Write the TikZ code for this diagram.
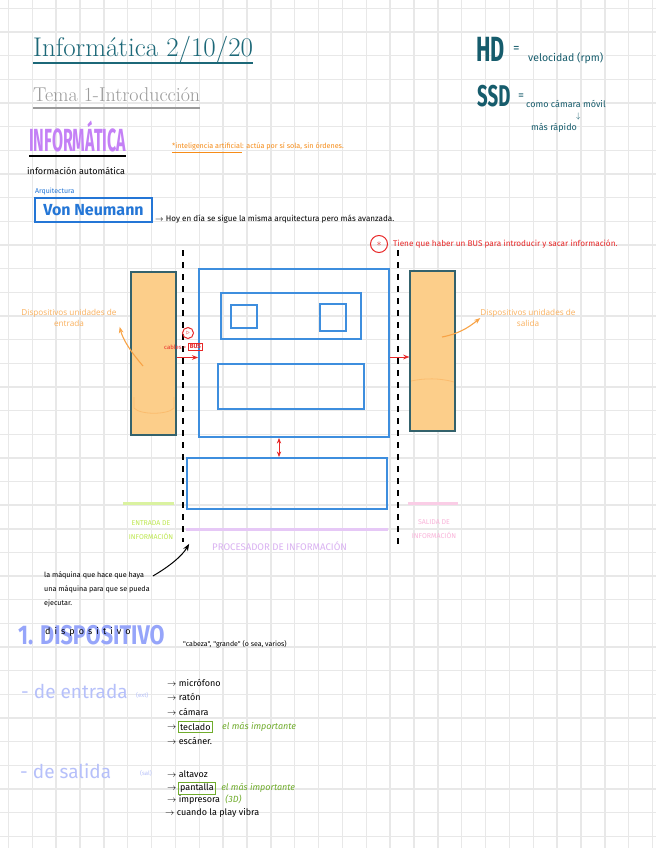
\documentclass[tikz,border=0pt]{standalone}
\usepackage{fontspec}
\usepackage{tikz}
\usetikzlibrary{arrows.meta, positioning}
\newfontfamily\hand{Fira Sans}
\newfontfamily\narrow[FakeStretch=0.62]{Fira Sans}
\newfontfamily\semi[FakeStretch=0.8]{Fira Sans}
\newfontfamily\squeezed[FakeStretch=0.5]{Fira Sans}
\newfontfamily\thinsans{Open Sans}
\newfontfamily\spaced[LetterSpace=45]{Fira Sans}
\definecolor{gridgray}{RGB}{232,232,232}
\definecolor{titleteal}{RGB}{28,104,120}
\definecolor{hdteal}{RGB}{22,92,108}
\definecolor{temagray}{RGB}{155,155,155}
\definecolor{infopurple}{RGB}{196,128,246}
\definecolor{noteorange}{RGB}{246,140,24}
\definecolor{vonblue}{RGB}{36,118,214}
\definecolor{busred}{RGB}{232,40,40}
\definecolor{diablue}{RGB}{62,142,222}
\definecolor{devfill}{RGB}{252,206,138}
\definecolor{devedge}{RGB}{52,98,108}
\definecolor{devlabel}{RGB}{250,176,92}
\definecolor{entgreen}{RGB}{190,232,80}
\definecolor{enthigh}{RGB}{218,242,160}
\definecolor{salpink}{RGB}{250,180,218}
\definecolor{salhigh}{RGB}{250,205,230}
\definecolor{procpurple}{RGB}{218,178,242}
\definecolor{prochigh}{RGB}{230,200,246}
\definecolor{periwinkle}{RGB}{150,165,250}
\definecolor{periwinklelt}{RGB}{182,192,250}
\definecolor{impgreen}{RGB}{112,172,44}
\tikzset{
    % Paper
    gridline/.style={draw=gridgray, line width=1.4pt},
    % Headings
    titletxt/.style={anchor=base west, inner sep=0pt, text=titleteal,
                font=\fontsize{27}{30}\selectfont},
    tematxt/.style={anchor=base west, inner sep=0pt, text=temagray,
                font=\fontsize{20}{24}\selectfont},
    % Handwritten notes
    note/.style={anchor=base west, inner sep=0pt, font=\hand\fontsize{#1}{#1}\selectfont},
    note/.default=8,
    vonbox/.style={rectangle, draw=vonblue, line width=1.5pt, text=vonblue,
                minimum width=117pt, minimum height=24pt, inner sep=0pt,
                font=\hand\bfseries\fontsize{16}{16}\selectfont},
    redcirc/.style={circle, draw=busred, line width=1pt, inner sep=0pt, text=busred},
    busbox/.style={rectangle, draw=busred, line width=0.9pt, inner sep=1.5pt, text=busred,
                font=\hand\bfseries\fontsize{6}{6}\selectfont},
    % Von Neumann diagram
    diabox/.style={rectangle, draw=diablue, line width=1.7pt, inner sep=0pt},
    devbox/.style={rectangle, draw=devedge, fill=devfill, line width=1.1pt,
                inner sep=0pt, minimum width=45pt},
    dashline/.style={black, line width=1.7pt, dash pattern=on 6pt off 6pt},
    busarrow/.style={-{Stealth[length=2.2mm]}, line width=1pt, busred},
    devarrow/.style={-{Stealth[length=2.2mm]}, line width=1.1pt, noteorange!80},
    devlab/.style={align=center, inner sep=0pt, text=devlabel,
                font=\thinsans\fontsize{8.2}{11}\selectfont},
    hilite/.style={line width=3pt, #1},
    capslab/.style={align=center, inner sep=0pt, text=#1,
                font=\hand\fontsize{7}{14}\selectfont},
    % Device lists
    listitem/.style={anchor=base west, inner sep=0pt, font=\hand\fontsize{9}{9}\selectfont},
    keybox/.style={draw=impgreen, line width=0.9pt, inner sep=2pt,
                font=\hand\fontsize{9}{9}\selectfont},
    impnote/.style={inner sep=0pt, text=impgreen, font=\hand\itshape\fontsize{9}{9}\selectfont},
    bigdash/.style={anchor=base west, inner sep=0pt, text=periwinklelt,
                font=\hand\fontsize{19}{19}\selectfont},
}

\begin{document}
\begin{tikzpicture}[x=1pt, y=-1pt]
\useasboundingbox (0,0) rectangle (656,848);
\fill[white] (0,0) rectangle (656,848);

% grid paper
\foreach \i in {0,...,27}
  \draw[gridline] ({8.4+23.86*\i},0) -- ++(0,848);
\foreach \j in {0,...,35}
  \draw[gridline] (0,{8.5+23.65*\j}) -- ++(656,0);

% headings
\node[titletxt] (title) at (33,57) {Informática 2/10/20};
\draw[titleteal, line width=1.6pt] ([yshift=-6pt]title.base west) -- ([yshift=-6pt]title.base east);
\node[tematxt] (tema) at (33,102) {Tema 1-Introducción};
\draw[temagray, line width=1.6pt] ([yshift=-6pt]tema.base west) -- ([yshift=-6pt]tema.base east);

\node[anchor=base west, inner sep=0pt, text=infopurple,
      font=\squeezed\bfseries\fontsize{32}{32}\selectfont] (informatica) at (29,151) {INFORMÁTICA};
\draw[black, line width=1.3pt] ([yshift=-5pt]informatica.base west) -- ([yshift=-5pt]informatica.base east);
\node[note=9] (autom) at (27,174) {información automática};
\node[note=7.2, text=noteorange] (ia) at (172,149) {\underline{*inteligencia artificial}: actúa por sí sola, sin órdenes.};

\node[note=7, text=vonblue] (arq) at (35,193) {Arquitectura};
\node[vonbox] (vonneumann) at (93.5,210) {Von Neumann};
\node[note=8.1] (hoy) at (155,221) {$\to$ Hoy en día se sigue la misma arquitectura pero más avanzada.};

% HD / SSD
\node[anchor=base west, inner sep=0pt, text=hdteal,
      font=\narrow\bfseries\fontsize{35}{35}\selectfont] (hd) at (476,62) {HD};
\node[note=13, text=hdteal] (hdeq) at (513,53) {=};
\node[note=10.5, text=hdteal] (hdnote) at (528,62) {velocidad (rpm)};
\node[anchor=base west, inner sep=0pt, text=hdteal,
      font=\narrow\bfseries\fontsize{30}{30}\selectfont] (ssd) at (477,107) {SSD};
\node[note=12, text=hdteal] (ssdeq) at (518,100) {=};
\node[note=9, text=hdteal] (ssdnote) at (526,108) {como cámara móvil};
\node[note=8, text=hdteal] (ssddown) at (576,119) {$\downarrow$};
\node[note=9, text=hdteal] (ssdfast) at (531,131) {más rápido};

% bus note
\node[redcirc, minimum size=17pt] (star) at (379,244) {$\ast$};
\node[note=8.2, text=busred, anchor=west, right=5pt of star] (busnote) {Tiene que haber un BUS para introducir y sacar información.};

% diagram
\draw[dashline] (183,250) -- (183,542);
\draw[dashline] (398,250) -- (398,546);

\node[devbox, minimum height=163pt] (inL) at (153.5,353.5) {};
\node[devbox, minimum height=160pt] (outR) at (432.5,351) {};

\node[diabox, minimum width=190pt, minimum height=168pt] (cpu) at (294,353) {};
\node[diabox, minimum width=140pt, minimum height=46pt] (ctrl) at (291,316) {};
\node[diabox, minimum width=26pt, minimum height=23pt] (regA) at (244,316.5) {};
\node[diabox, minimum width=26pt, minimum height=27pt] (regB) at (333,317.5) {};
\node[diabox, minimum width=146pt, minimum height=45pt] (alu) at (291,386.5) {};
\node[diabox, minimum width=200pt, minimum height=51pt] (mem) at (287,483.5) {};

\draw[busarrow] ([yshift=-4pt]inL.east) -- ([yshift=-4pt]inL.east -| cpu.west);
\draw[busarrow] ([yshift=-4pt]cpu.east) -- ([yshift=-4pt]cpu.east -| outR.west);
\draw[busarrow, {Stealth[length=2mm]}-{Stealth[length=2mm]}] ([xshift=-15pt]cpu.south) -- ([xshift=-15pt]cpu.south |- mem.north);

\node[redcirc, minimum size=11pt] (busmark) at (188,333) {\fontsize{6}{6}\selectfont$\triangleright$};
\node[note=6, text=busred] (cables) at (164,349) {cables =};
\node[busbox, right=1.5pt of cables] (bus) {BUS};

\node[devlab] (inLab) at (69,318) {Dispositivos unidades de\\entrada};
\node[devlab] (outLab) at (528,318) {Dispositivos unidades de\\salida};
\coordinate (inTip) at (143,366);
\coordinate (outTip) at (442,337);
\draw[devarrow] (inTip) .. controls (131,352) and (123,340) .. ([xshift=3pt]inLab.south east);
\draw[devarrow] (outTip) .. controls (458,334) and (468,328) .. (outLab.west);
\draw[devlabel, line width=0.8pt, opacity=0.6] (134,397) -- (134,408) .. controls (140,415) and (168,415) .. (174,408) -- (174,397);
\draw[devlabel, line width=0.8pt, opacity=0.6] (411,381) .. controls (425,378) and (440,378) .. (454,382);

\draw[hilite=enthigh] (123,503) -- (174,503);
\node[capslab=entgreen] (entLab) at (151,530) {ENTRADA DE\\INFORMACIÓN};
\draw[hilite=salhigh] (408,503) -- (458,503);
\node[capslab=salpink] (salLab) at (434,529) {SALIDA DE\\INFORMACIÓN};
\draw[hilite=prochigh] ([yshift=-20pt]mem.south west) -- ([yshift=-20pt]mem.south east);
\node[anchor=base west, inner sep=0pt, text=procpurple,
      font=\hand\fontsize{9.6}{9.6}\selectfont] (procLab) at (212,550) {PROCESADOR DE INFORMACIÓN};

\node[anchor=north west, align=left, inner sep=0pt,
      font=\hand\fontsize{7.2}{14}\selectfont] (machine) at (44,572)
      {la máquina que hace que haya\\una máquina para que se pueda\\ejecutar.};
\draw[-{Stealth[length=2.5mm]}, line width=1pt] ([shift={(3pt,-4pt)}]machine.north east)
      .. controls (170,566) and (182,556) .. ([shift={(3pt,-34pt)}]mem.south west);

% devices
\node[anchor=base west, inner sep=0pt, text=periwinkle,
      font=\semi\bfseries\fontsize{27}{27}\selectfont] (dispo) at (18,644) {1. DISPOSITIVO};
\node[anchor=base west, inner sep=0pt, font=\spaced\fontsize{9}{9}\selectfont] (dispoword) at (45,634) {dispositivo};
\node[note=7] (dispnote) at (183,646) {"cabeza", "grande" (o sea, varios)};

\node[bigdash] (entrada) at (21,698) {- de entrada};
\node[note=6, text=periwinklelt] (enttag) at (136,697) {(ext)};
\node[listitem] (mic) at (167,686) {$\to$ micrófono};
\node[listitem] (raton) at (167,700) {$\to$ ratón};
\node[listitem] (camara) at (167,715) {$\to$ cámara};
\node[listitem] (tecarrow) at (167,729) {$\to$};
\node[keybox, right=1pt of tecarrow] (teclado) {teclado};
\node[impnote, right=9pt of teclado] (tecnote) {el más importante};
\node[listitem] (escaner) at (167,744) {$\to$ escáner.};

\node[bigdash] (salida) at (20,778) {- de salida};
\node[note=6, text=periwinklelt] (saltag) at (140,775) {(sal)};
\node[listitem] (altavoz) at (167,777) {$\to$ altavoz};
\node[listitem] (panarrow) at (167,790) {$\to$};
\node[keybox, right=1pt of panarrow] (pantalla) {pantalla};
\node[impnote, right=5pt of pantalla] (pannote) {el más importante};
\node[listitem] (impresora) at (167,802) {$\to$ impresora};
\node[impnote, right=5pt of impresora] (tresd) {(3D)};
\node[listitem] (play) at (165,815) {$\to$ cuando la play vibra};
\end{tikzpicture}
\end{document}
